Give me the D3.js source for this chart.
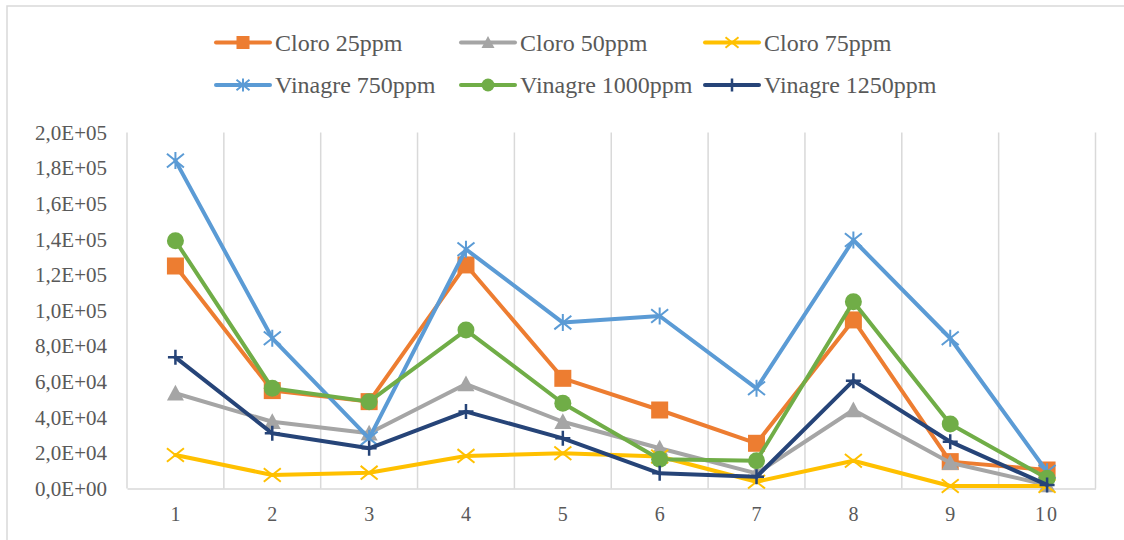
<!DOCTYPE html>
<html><head><meta charset="utf-8">
<script src="https://cdn.jsdelivr.net/npm/d3@7/dist/d3.min.js"></script>
</head>
<body style="margin:0">
<svg id="c" width="1124" height="540" font-family="Liberation Serif"></svg>
<script>
const categories = ["1","2","3","4","5","6","7","8","9","10"];
const seriesNames = ["Cloro 25ppm","Cloro 50ppm","Cloro 75ppm","Vinagre 750ppm","Vinagre 1000ppm","Vinagre 1250ppm"];
const cloro25  = [125000, 55000, 48800, 125600, 61900, 44100, 25400, 94700, 15100, 10400];
const cloro50  = [53500, 37500, 31000, 58700, 37500, 22600, 8500, 44100, 14500, 2000];
const cloro75  = [18800, 7600, 8900, 18300, 19800, 18000, 3800, 15600, 1400, 1400];
const vin750   = [184200, 84400, 28200, 134400, 93200, 96900, 56300, 139600, 84400, 9400];
const vin1000  = [139200, 56300, 48800, 89000, 47900, 16400, 15600, 104900, 36200, 5700];
const vin1250  = [73700, 31000, 22600, 43200, 28200, 8500, 6600, 60600, 26300, 2000];
const yTicks = [0,20000,40000,60000,80000,100000,120000,140000,160000,180000,200000];
const yTickLabels = ["0,0E+00","2,0E+04","4,0E+04","6,0E+04","8,0E+04","1,0E+05","1,2E+05","1,4E+05","1,6E+05","1,8E+05","2,0E+05"];

const colors = ["#ED7D31","#A5A5A5","#FFC000","#5B9BD5","#70AD47","#264478"];
const markers = ["square","triangle","x","star","circle","plus"];
const seriesData = [cloro25, cloro50, cloro75, vin750, vin1000, vin1250];

const svg = d3.select("#c");
const L = 127, R = 1095.5, T = 132.5, B = 488.5;

svg.append("rect").attr("x",7).attr("y",6).attr("width",1130).attr("height",560)
  .attr("fill","none").attr("stroke","#d9d9d9").attr("stroke-width",1.5);

const x = d3.scaleBand().domain(categories).range([L,R]).padding(0);
const y = d3.scaleLinear().domain([0,200000]).range([B,T]);

const bounds = categories.map(c => x(c)).concat([R]);
svg.append("g").selectAll("line").data(bounds).join("line")
  .attr("x1",d=>d).attr("x2",d=>d).attr("y1",T).attr("y2",B)
  .attr("stroke","#d9d9d9").attr("stroke-width",1.5);

const xAxis = d3.axisBottom(x).tickSize(0).tickPadding(18);
const gx = svg.append("g").attr("transform",`translate(0,${B})`).call(xAxis);
gx.attr("font-family","Liberation Serif").attr("font-size",20);
gx.select(".domain").attr("stroke","#d9d9d9").attr("stroke-width",1.5);
gx.selectAll("text").attr("font-family","Liberation Serif").style("font-family","Liberation Serif")
  .attr("fill","#595959").attr("letter-spacing", d => d.length>1 ? 2 : null);

const yAxis = d3.axisLeft(y).tickValues(yTicks).tickSize(0).tickPadding(20)
  .tickFormat((d,i)=>yTickLabels[i]);
const gy = svg.append("g").attr("transform",`translate(${L},0)`).call(yAxis);
gy.attr("font-family","Liberation Serif").attr("font-size",21);
gy.select(".domain").remove();
gy.selectAll("text").attr("font-family","Liberation Serif").style("font-family","Liberation Serif").attr("fill","#595959");

function drawMarker(g, type, color, s) {
  const h = s/2;
  if (type==="square") {
    g.append("rect").attr("x",-h).attr("y",-h).attr("width",s).attr("height",s).attr("fill",color);
  } else if (type==="circle") {
    g.append("circle").attr("r",h).attr("fill",color);
  } else if (type==="triangle") {
    g.append("path").attr("d",`M0,${-h}L${h},${h*0.85}L${-h},${h*0.85}Z`).attr("fill",color);
  } else if (type==="x") {
    g.append("path").attr("d",`M${-h},${-h*0.8}L${h},${h*0.8}M${-h},${h*0.8}L${h},${-h*0.8}`)
      .attr("stroke",color).attr("stroke-width",2).attr("fill","none");
  } else if (type==="star") {
    g.append("path").attr("d",`M${-h},${-h*0.8}L${h},${h*0.8}M${-h},${h*0.8}L${h},${-h*0.8}M0,${-h}L0,${h}`)
      .attr("stroke",color).attr("stroke-width",2).attr("fill","none");
  } else if (type==="plus") {
    g.append("path").attr("d",`M${-h},0L${h},0M0,${-h}L0,${h}`)
      .attr("stroke",color).attr("stroke-width",2.5).attr("fill","none");
  }
}

const line = d3.line().x((d,i)=>x(categories[i])+x.bandwidth()/2).y(d=>y(d));
seriesData.forEach((vals,si)=>{
  const g = svg.append("g");
  g.append("path").datum(vals).attr("d",line).attr("fill","none")
    .attr("stroke",colors[si]).attr("stroke-width",4).attr("stroke-linejoin","round").attr("stroke-linecap","round");
  vals.forEach((v,i)=>{
    const mg = g.append("g").attr("transform",`translate(${x(categories[i])+x.bandwidth()/2},${y(v)})`);
    drawMarker(mg, markers[si], colors[si], markers[si]==="plus"?15:17);
  });
});

const legX = [216, 461, 705];
const legY = [42.5, 85];
seriesNames.forEach((name,si)=>{
  const lx = legX[si%3], ly = legY[Math.floor(si/3)];
  const g = svg.append("g").attr("transform",`translate(${lx},${ly})`);
  g.append("line").attr("x1",0).attr("x2",54).attr("y1",0).attr("y2",0)
    .attr("stroke",colors[si]).attr("stroke-width",4).attr("stroke-linecap","round");
  const mg = g.append("g").attr("transform","translate(27,0)");
  drawMarker(mg, markers[si], colors[si], 13);
  g.append("text").attr("x",59).attr("y",8).attr("fill","#595959")
    .attr("font-family","Liberation Serif").style("font-family","Liberation Serif").attr("font-size",24).text(name);
});
</script>
</body></html>
